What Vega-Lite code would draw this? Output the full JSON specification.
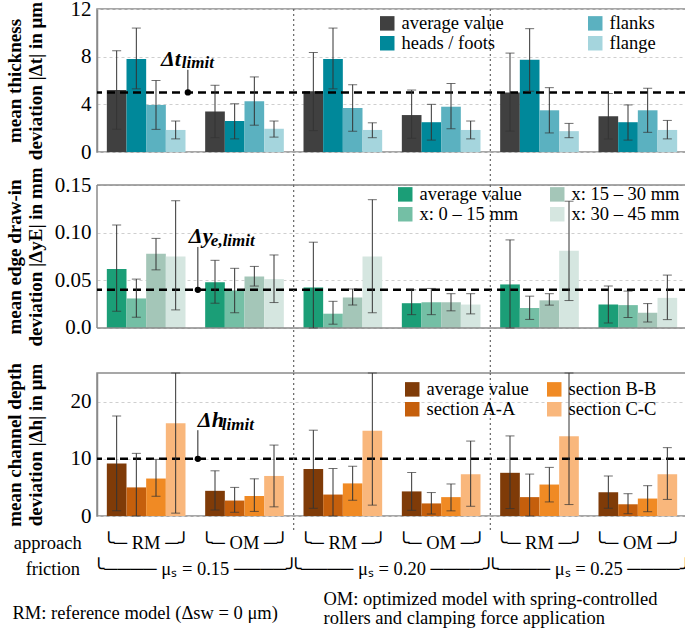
{
  "$schema": "https://vega.github.io/schema/vega-lite/v6.json",
  "background": "white",
  "padding": {"left": 4, "top": -3, "right": 0, "bottom": 0},
  "bounds": "flush",
  "spacing": 33,
  "resolve": {"scale": {"color": "independent", "y": "independent", "xOffset": "independent"}, "legend": {"color": "independent"}, "axis": {"y": "independent"}},
  "config": {
    "font": "Liberation Serif",
    "view": {"stroke": "#8a8a8a", "strokeWidth": 1.5},
    "axis": {"labelFont": "Liberation Serif", "labelFontSize": 21, "labelColor": "black", "labelOverlap": false, "ticks": false, "labelPadding": 6, "domainColor": "#8a8a8a", "domainWidth": 1.5, "gridColor": "#cfcfcf", "gridDash": [3, 3], "gridWidth": 1, "titleFont": "Liberation Serif", "titleFontSize": 19, "titleFontWeight": "bold", "titleColor": "black", "titleLineHeight": 21},
    "axisY": {"labelOverlap": false},
    "axisLeft": {"labelOverlap": false},
    "axisQuantitative": {"labelOverlap": false},
    "legend": {"orient": "none", "columns": 2, "labelFont": "Liberation Serif", "labelFontSize": 18.5, "labelColor": "black", "symbolType": "square", "symbolSize": 210, "symbolStrokeWidth": 0, "symbolOpacity": 1, "rowPadding": 1, "labelOffset": 5},
    "text": {"font": "Liberation Serif", "fontSize": 18.5, "color": "black"}
  },
  "datasets": {
    "one": [{}],
    "thick": [
      {"g": "RM 0.15", "s": "average value", "v": 5.2, "lo": 1.9, "hi": 8.5},
      {"g": "RM 0.15", "s": "heads / foots", "v": 7.8, "lo": 5.3, "hi": 10.4},
      {"g": "RM 0.15", "s": "flanks", "v": 3.95, "lo": 1.9, "hi": 6.0},
      {"g": "RM 0.15", "s": "flange", "v": 1.85, "lo": 1.1, "hi": 2.6},
      {"g": "OM 0.15", "s": "average value", "v": 3.4, "lo": 1.2, "hi": 5.6},
      {"g": "OM 0.15", "s": "heads / foots", "v": 2.6, "lo": 1.1, "hi": 4.05},
      {"g": "OM 0.15", "s": "flanks", "v": 4.25, "lo": 2.25, "hi": 6.3},
      {"g": "OM 0.15", "s": "flange", "v": 1.95, "lo": 1.25, "hi": 2.6},
      {"g": "RM 0.20", "s": "average value", "v": 5.1, "lo": 1.8, "hi": 8.35},
      {"g": "RM 0.20", "s": "heads / foots", "v": 7.8, "lo": 5.3, "hi": 10.4},
      {"g": "RM 0.20", "s": "flanks", "v": 3.7, "lo": 1.75, "hi": 5.65},
      {"g": "RM 0.20", "s": "flange", "v": 1.85, "lo": 1.2, "hi": 2.45},
      {"g": "OM 0.20", "s": "average value", "v": 3.1, "lo": 1.15, "hi": 5.2},
      {"g": "OM 0.20", "s": "heads / foots", "v": 2.5, "lo": 1.0, "hi": 4.0},
      {"g": "OM 0.20", "s": "flanks", "v": 3.8, "lo": 1.95, "hi": 5.75},
      {"g": "OM 0.20", "s": "flange", "v": 1.85, "lo": 1.1, "hi": 2.6},
      {"g": "RM 0.25", "s": "average value", "v": 5.0, "lo": 1.75, "hi": 8.3},
      {"g": "RM 0.25", "s": "heads / foots", "v": 7.75, "lo": 5.1, "hi": 10.35},
      {"g": "RM 0.25", "s": "flanks", "v": 3.5, "lo": 1.6, "hi": 5.4},
      {"g": "RM 0.25", "s": "flange", "v": 1.75, "lo": 1.2, "hi": 2.4},
      {"g": "OM 0.25", "s": "average value", "v": 3.0, "lo": 1.1, "hi": 4.9},
      {"g": "OM 0.25", "s": "heads / foots", "v": 2.5, "lo": 1.0, "hi": 3.95},
      {"g": "OM 0.25", "s": "flanks", "v": 3.5, "lo": 1.65, "hi": 5.35},
      {"g": "OM 0.25", "s": "flange", "v": 1.85, "lo": 1.1, "hi": 2.65}
    ],
    "edge": [
      {"g": "RM 0.15", "s": "average value", "v": 0.062, "lo": 0.0176, "hi": 0.108},
      {"g": "RM 0.15", "s": "x: 0 – 15 mm", "v": 0.031, "lo": 0.0113, "hi": 0.0513},
      {"g": "RM 0.15", "s": "x: 15 – 30 mm", "v": 0.078, "lo": 0.061, "hi": 0.094},
      {"g": "RM 0.15", "s": "x: 30 – 45 mm", "v": 0.075, "lo": 0.019, "hi": 0.1335},
      {"g": "OM 0.15", "s": "average value", "v": 0.048, "lo": 0.026, "hi": 0.071},
      {"g": "OM 0.15", "s": "x: 0 – 15 mm", "v": 0.0394, "lo": 0.016, "hi": 0.0626},
      {"g": "OM 0.15", "s": "x: 15 – 30 mm", "v": 0.054, "lo": 0.044, "hi": 0.0646},
      {"g": "OM 0.15", "s": "x: 30 – 45 mm", "v": 0.0513, "lo": 0.0267, "hi": 0.0766},
      {"g": "RM 0.20", "s": "average value", "v": 0.0425, "lo": 0.0, "hi": 0.09},
      {"g": "RM 0.20", "s": "x: 0 – 15 mm", "v": 0.015, "lo": 0.004, "hi": 0.028},
      {"g": "RM 0.20", "s": "x: 15 – 30 mm", "v": 0.032, "lo": 0.024, "hi": 0.041},
      {"g": "RM 0.20", "s": "x: 30 – 45 mm", "v": 0.075, "lo": 0.016, "hi": 0.1346},
      {"g": "OM 0.20", "s": "average value", "v": 0.026, "lo": 0.014, "hi": 0.04},
      {"g": "OM 0.20", "s": "x: 0 – 15 mm", "v": 0.027, "lo": 0.014, "hi": 0.0415},
      {"g": "OM 0.20", "s": "x: 15 – 30 mm", "v": 0.027, "lo": 0.018, "hi": 0.036},
      {"g": "OM 0.20", "s": "x: 30 – 45 mm", "v": 0.0246, "lo": 0.0148, "hi": 0.036},
      {"g": "RM 0.25", "s": "average value", "v": 0.0457, "lo": 0.0, "hi": 0.0924},
      {"g": "RM 0.25", "s": "x: 0 – 15 mm", "v": 0.021, "lo": 0.009, "hi": 0.0334},
      {"g": "RM 0.25", "s": "x: 15 – 30 mm", "v": 0.029, "lo": 0.024, "hi": 0.036},
      {"g": "RM 0.25", "s": "x: 30 – 45 mm", "v": 0.081, "lo": 0.0288, "hi": 0.133},
      {"g": "OM 0.25", "s": "average value", "v": 0.0246, "lo": 0.0053, "hi": 0.044},
      {"g": "OM 0.25", "s": "x: 0 – 15 mm", "v": 0.024, "lo": 0.011, "hi": 0.0387},
      {"g": "OM 0.25", "s": "x: 15 – 30 mm", "v": 0.016, "lo": 0.0063, "hi": 0.0256},
      {"g": "OM 0.25", "s": "x: 30 – 45 mm", "v": 0.0316, "lo": 0.0088, "hi": 0.0555}
    ],
    "depth": [
      {"g": "RM 0.15", "s": "average value", "v": 9.2, "lo": 0.9, "hi": 17.5},
      {"g": "RM 0.15", "s": "section A-A", "v": 5.0, "lo": 0.0, "hi": 10.95},
      {"g": "RM 0.15", "s": "section B-B", "v": 6.55, "lo": 3.45, "hi": 9.9},
      {"g": "RM 0.15", "s": "section C-C", "v": 16.2, "lo": 0.5, "hi": 25},
      {"g": "OM 0.15", "s": "average value", "v": 4.4, "lo": 1.05, "hi": 7.9},
      {"g": "OM 0.15", "s": "section A-A", "v": 2.7, "lo": 0.65, "hi": 5.0},
      {"g": "OM 0.15", "s": "section B-B", "v": 3.5, "lo": 0.8, "hi": 6.5},
      {"g": "OM 0.15", "s": "section C-C", "v": 7.0, "lo": 1.6, "hi": 12.4},
      {"g": "RM 0.20", "s": "average value", "v": 8.2, "lo": 1.35, "hi": 15.0},
      {"g": "RM 0.20", "s": "section A-A", "v": 3.75, "lo": 0.0, "hi": 8.3},
      {"g": "RM 0.20", "s": "section B-B", "v": 5.7, "lo": 2.75, "hi": 8.7},
      {"g": "RM 0.20", "s": "section C-C", "v": 14.9, "lo": 1.9, "hi": 25},
      {"g": "OM 0.20", "s": "average value", "v": 4.3, "lo": 1.0, "hi": 7.6},
      {"g": "OM 0.20", "s": "section A-A", "v": 2.2, "lo": 0.35, "hi": 4.1},
      {"g": "OM 0.20", "s": "section B-B", "v": 3.3, "lo": 0.9, "hi": 5.6},
      {"g": "OM 0.20", "s": "section C-C", "v": 7.3, "lo": 1.7, "hi": 13.1},
      {"g": "RM 0.25", "s": "average value", "v": 7.55, "lo": 1.3, "hi": 14.0},
      {"g": "RM 0.25", "s": "section A-A", "v": 3.3, "lo": 0.0, "hi": 7.33},
      {"g": "RM 0.25", "s": "section B-B", "v": 5.5, "lo": 2.46, "hi": 8.5},
      {"g": "RM 0.25", "s": "section C-C", "v": 13.95, "lo": 2.0, "hi": 25},
      {"g": "OM 0.25", "s": "average value", "v": 4.15, "lo": 1.35, "hi": 7.0},
      {"g": "OM 0.25", "s": "section A-A", "v": 2.05, "lo": 0.4, "hi": 3.9},
      {"g": "OM 0.25", "s": "section B-B", "v": 3.05, "lo": 0.75, "hi": 5.3},
      {"g": "OM 0.25", "s": "section C-C", "v": 7.3, "lo": 2.9, "hi": 11.95}
    ],
    "sep": [{"g": "RM 0.20"}, {"g": "RM 0.25"}],
    "grp": [
      {"g": "RM 0.15", "t": "╰─ RM ─╯"}, {"g": "OM 0.15", "t": "╰─ OM ─╯"},
      {"g": "RM 0.20", "t": "╰─ RM ─╯"}, {"g": "OM 0.20", "t": "╰─ OM ─╯"},
      {"g": "RM 0.25", "t": "╰─ RM ─╯"}, {"g": "OM 0.25", "t": "╰─ OM ─╯"}
    ],
    "fric": [
      {"g": "OM 0.15", "t": "╰──── μₛ = 0.15 ────╯"},
      {"g": "OM 0.20", "t": "╰──── μₛ = 0.20 ────╯"},
      {"g": "OM 0.25", "t": "╰──── μₛ = 0.25 ────╯"}
    ]
  },
  "vconcat": [
    {
      "width": 590, "height": 143,
      "data": {"name": "thick"},
      "layer": [
        {
          "mark": {"type": "bar"},
          "encoding": {
            "x": {"field": "g", "type": "nominal", "scale": {"domain": ["RM 0.15", "OM 0.15", "RM 0.20", "OM 0.20", "RM 0.25", "OM 0.25"], "paddingInner": 0.2, "paddingOuter": 0.1}, "axis": null},
            "xOffset": {"field": "s", "type": "nominal", "scale": {"domain": ["average value", "heads / foots", "flanks", "flange"], "paddingInner": 0, "paddingOuter": 0}},
            "y": {"field": "v", "type": "quantitative", "scale": {"domain": [0, 12], "nice": false}, "axis": {"values": [0, 2, 4, 6, 8, 10, 12], "labelOverlap": false, "title": ["mean thickness", "deviation |Δt| in μm"], "titleX": -73, "titleY": 71.5}},
            "color": {"field": "s", "type": "nominal", "scale": {"domain": ["average value", "heads / foots", "flanks", "flange"], "range": ["#404040", "#00889a", "#5bb1c0", "#a5d5dd"]}, "legend": {"title": null, "legendX": 281, "legendY": 5, "columnPadding": 82}}
          }
        },
        {"data": {"name": "one"}, "mark": {"type": "rule", "strokeDash": [8, 5], "strokeWidth": 2.5, "color": "black"}, "encoding": {"y": {"datum": 5, "type": "quantitative", "axis": {"labelOverlap": false}}}},
        {
          "mark": {"type": "rule", "color": "#333", "strokeWidth": 1},
          "encoding": {"x": {"field": "g", "type": "nominal"}, "xOffset": {"field": "s", "type": "nominal"}, "y": {"field": "lo", "type": "quantitative", "axis": {"labelOverlap": false}}, "y2": {"field": "hi"}}
        },
        {"mark": {"type": "tick", "orient": "horizontal", "size": 9, "thickness": 1, "color": "#333"}, "encoding": {"x": {"field": "g", "type": "nominal"}, "xOffset": {"field": "s", "type": "nominal"}, "y": {"field": "lo", "type": "quantitative", "axis": {"labelOverlap": false}}}},
        {"mark": {"type": "tick", "orient": "horizontal", "size": 9, "thickness": 1, "color": "#333"}, "encoding": {"x": {"field": "g", "type": "nominal"}, "xOffset": {"field": "s", "type": "nominal"}, "y": {"field": "hi", "type": "quantitative", "axis": {"labelOverlap": false}}}},
        {"data": {"name": "sep"}, "mark": {"type": "rule", "strokeDash": [2, 3], "color": "#666", "strokeWidth": 1.2}, "encoding": {"x": {"field": "g", "type": "nominal", "bandPosition": -0.125}, "y": {"datum": 12, "type": "quantitative", "axis": {"labelOverlap": false}}, "y2": {"datum": -2.75}}},
        {"data": {"name": "one"}, "mark": {"type": "rule", "color": "#222", "strokeWidth": 1}, "encoding": {"x": {"datum": "RM 0.15", "type": "nominal", "bandPosition": 1.03}, "y": {"datum": 5, "type": "quantitative", "axis": {"labelOverlap": false}}, "y2": {"datum": 6.9}}},
        {"data": {"name": "one"}, "mark": {"type": "point", "filled": true, "color": "black", "size": 40, "opacity": 1}, "encoding": {"x": {"datum": "RM 0.15", "type": "nominal", "bandPosition": 1.03}, "y": {"datum": 5, "type": "quantitative", "axis": {"labelOverlap": false}}}},
        {"data": {"name": "one"}, "mark": {"type": "text", "text": "Δt", "fontSize": 22, "fontWeight": "bold", "fontStyle": "italic", "align": "right", "baseline": "alphabetic", "dx": -7}, "encoding": {"x": {"datum": "RM 0.15", "type": "nominal", "bandPosition": 1.03}, "y": {"datum": 7.25, "type": "quantitative", "axis": {"labelOverlap": false}}}},
        {"data": {"name": "one"}, "mark": {"type": "text", "text": "limit", "fontSize": 17, "fontWeight": "bold", "fontStyle": "italic", "align": "left", "baseline": "alphabetic", "dx": -6}, "encoding": {"x": {"datum": "RM 0.15", "type": "nominal", "bandPosition": 1.03}, "y": {"datum": 7.05, "type": "quantitative", "axis": {"labelOverlap": false}}}}
      ]
    },
    {
      "width": 590, "height": 155,
      "view": {"stroke": null},
      "data": {"name": "edge"},
      "layer": [
        {
          "mark": {"type": "bar"},
          "encoding": {
            "x": {"field": "g", "type": "nominal", "scale": {"domain": ["RM 0.15", "OM 0.15", "RM 0.20", "OM 0.20", "RM 0.25", "OM 0.25"], "paddingInner": 0.2, "paddingOuter": 0.1}, "axis": null},
            "xOffset": {"field": "s", "type": "nominal", "scale": {"domain": ["average value", "x: 0 – 15 mm", "x: 15 – 30 mm", "x: 30 – 45 mm"], "paddingInner": 0, "paddingOuter": 0}},
            "y": {"field": "v", "type": "quantitative", "scale": {"domain": [-0.01259, 0.15], "nice": false, "zero": false}, "axis": {"values": [0, 0.05, 0.1, 0.15], "labelOverlap": false, "domain": false, "labelExpr": "datum.value == 0 ? '0.0' : format(datum.value, '.2f')", "title": ["mean edge draw-in", "deviation |ΔyE| in mm"], "titleX": -73, "titleY": 71.5}},
            "color": {"field": "s", "type": "nominal", "scale": {"domain": ["average value", "x: 0 – 15 mm", "x: 15 – 30 mm", "x: 30 – 45 mm"], "range": ["#1b9e77", "#74bfa5", "#a4c6b8", "#d5e6e0"]}, "legend": {"title": null, "legendX": 299, "legendY": 0, "columnPadding": 26}}
          }
        },
        {"data": {"name": "one"}, "mark": {"type": "rule", "color": "#8a8a8a", "strokeWidth": 1.5}, "encoding": {"y": {"datum": 0.15, "type": "quantitative", "axis": {"labelOverlap": false}}}},
        {"data": {"name": "one"}, "mark": {"type": "rule", "color": "#8a8a8a", "strokeWidth": 1.5}, "encoding": {"y": {"datum": 0, "type": "quantitative", "axis": {"labelOverlap": false}}}},
        {"data": {"name": "one"}, "mark": {"type": "rule", "color": "#8a8a8a", "strokeWidth": 1.5}, "encoding": {"x": {"datum": "RM 0.15", "type": "nominal", "bandPosition": -0.125}, "y": {"datum": 0, "type": "quantitative", "axis": {"labelOverlap": false}}, "y2": {"datum": 0.15}}},
        {"data": {"name": "one"}, "mark": {"type": "rule", "color": "#8a8a8a", "strokeWidth": 1.5}, "encoding": {"x": {"datum": "OM 0.25", "type": "nominal", "bandPosition": 1.125}, "y": {"datum": 0, "type": "quantitative", "axis": {"labelOverlap": false}}, "y2": {"datum": 0.15}}},
        {"data": {"name": "one"}, "mark": {"type": "rule", "strokeDash": [8, 5], "strokeWidth": 2.5, "color": "black"}, "encoding": {"y": {"datum": 0.04, "type": "quantitative", "axis": {"labelOverlap": false}}}},
        {
          "mark": {"type": "rule", "color": "#333", "strokeWidth": 1},
          "encoding": {"x": {"field": "g", "type": "nominal"}, "xOffset": {"field": "s", "type": "nominal"}, "y": {"field": "lo", "type": "quantitative", "axis": {"labelOverlap": false}}, "y2": {"field": "hi"}}
        },
        {"mark": {"type": "tick", "orient": "horizontal", "size": 9, "thickness": 1, "color": "#333"}, "encoding": {"x": {"field": "g", "type": "nominal"}, "xOffset": {"field": "s", "type": "nominal"}, "y": {"field": "lo", "type": "quantitative", "axis": {"labelOverlap": false}}}},
        {"mark": {"type": "tick", "orient": "horizontal", "size": 9, "thickness": 1, "color": "#333"}, "encoding": {"x": {"field": "g", "type": "nominal"}, "xOffset": {"field": "s", "type": "nominal"}, "y": {"field": "hi", "type": "quantitative", "axis": {"labelOverlap": false}}}},
        {"data": {"name": "sep"}, "mark": {"type": "rule", "strokeDash": [2, 3], "color": "#666", "strokeWidth": 1.2}, "encoding": {"x": {"field": "g", "type": "nominal", "bandPosition": -0.125}, "y": {"datum": 0.15, "type": "quantitative", "axis": {"labelOverlap": false}}, "y2": {"datum": -0.0472}}},
        {"data": {"name": "one"}, "mark": {"type": "rule", "color": "#222", "strokeWidth": 1}, "encoding": {"x": {"datum": "RM 0.15", "type": "nominal", "bandPosition": 1.157}, "y": {"datum": 0.04, "type": "quantitative", "axis": {"labelOverlap": false}}, "y2": {"datum": 0.085}}},
        {"data": {"name": "one"}, "mark": {"type": "point", "filled": true, "color": "black", "size": 40, "opacity": 1}, "encoding": {"x": {"datum": "RM 0.15", "type": "nominal", "bandPosition": 1.157}, "y": {"datum": 0.04, "type": "quantitative", "axis": {"labelOverlap": false}}}},
        {"data": {"name": "one"}, "mark": {"type": "text", "text": "Δy", "fontSize": 22, "fontWeight": "bold", "fontStyle": "italic", "align": "left", "baseline": "alphabetic", "dx": -9}, "encoding": {"x": {"datum": "RM 0.15", "type": "nominal", "bandPosition": 1.157}, "y": {"datum": 0.0889, "type": "quantitative", "axis": {"labelOverlap": false}}}},
        {"data": {"name": "one"}, "mark": {"type": "text", "text": "e,limit", "fontSize": 17, "fontWeight": "bold", "fontStyle": "italic", "align": "left", "baseline": "alphabetic", "dx": 13}, "encoding": {"x": {"datum": "RM 0.15", "type": "nominal", "bandPosition": 1.157}, "y": {"datum": 0.0865, "type": "quantitative", "axis": {"labelOverlap": false}}}}
      ]
    },
    {
      "width": 590, "height": 143,
      "data": {"name": "depth"},
      "layer": [
        {
          "mark": {"type": "bar"},
          "encoding": {
            "x": {"field": "g", "type": "nominal", "scale": {"domain": ["RM 0.15", "OM 0.15", "RM 0.20", "OM 0.20", "RM 0.25", "OM 0.25"], "paddingInner": 0.2, "paddingOuter": 0.1}, "axis": null},
            "xOffset": {"field": "s", "type": "nominal", "scale": {"domain": ["average value", "section A-A", "section B-B", "section C-C"], "paddingInner": 0, "paddingOuter": 0}},
            "y": {"field": "v", "type": "quantitative", "scale": {"domain": [0, 25], "nice": false}, "axis": {"values": [0, 5, 10, 15, 20, 25], "labelOverlap": false, "title": ["mean channel depth", "deviation |Δh| in μm"], "titleX": -73, "titleY": 71.5}},
            "color": {"field": "s", "type": "nominal", "scale": {"domain": ["average value", "section A-A", "section B-B", "section C-C"], "range": ["#7f3b08", "#c55f0c", "#f08a24", "#f9b77c"]}, "legend": {"title": null, "legendX": 306, "legendY": 7, "columnPadding": 16}}
          }
        },
        {"data": {"name": "one"}, "mark": {"type": "rule", "strokeDash": [8, 5], "strokeWidth": 2.5, "color": "black"}, "encoding": {"y": {"datum": 10, "type": "quantitative", "axis": {"labelOverlap": false}}}},
        {
          "mark": {"type": "rule", "color": "#333", "strokeWidth": 1},
          "encoding": {"x": {"field": "g", "type": "nominal"}, "xOffset": {"field": "s", "type": "nominal"}, "y": {"field": "lo", "type": "quantitative", "axis": {"labelOverlap": false}}, "y2": {"field": "hi"}}
        },
        {"mark": {"type": "tick", "orient": "horizontal", "size": 9, "thickness": 1, "color": "#333"}, "encoding": {"x": {"field": "g", "type": "nominal"}, "xOffset": {"field": "s", "type": "nominal"}, "y": {"field": "lo", "type": "quantitative", "axis": {"labelOverlap": false}}}},
        {"mark": {"type": "tick", "orient": "horizontal", "size": 9, "thickness": 1, "color": "#333"}, "encoding": {"x": {"field": "g", "type": "nominal"}, "xOffset": {"field": "s", "type": "nominal"}, "y": {"field": "hi", "type": "quantitative", "axis": {"labelOverlap": false}}}},
        {"data": {"name": "sep"}, "mark": {"type": "rule", "strokeDash": [2, 3], "color": "#666", "strokeWidth": 1.2}, "encoding": {"x": {"field": "g", "type": "nominal", "bandPosition": -0.125}, "y": {"datum": 25, "type": "quantitative", "axis": {"labelOverlap": false}}, "y2": {"datum": -2.8}}},
        {"data": {"name": "one"}, "mark": {"type": "rule", "color": "#222", "strokeWidth": 1}, "encoding": {"x": {"datum": "RM 0.15", "type": "nominal", "bandPosition": 1.157}, "y": {"datum": 10, "type": "quantitative", "axis": {"labelOverlap": false}}, "y2": {"datum": 15.0}}},
        {"data": {"name": "one"}, "mark": {"type": "point", "filled": true, "color": "black", "size": 40, "opacity": 1}, "encoding": {"x": {"datum": "RM 0.15", "type": "nominal", "bandPosition": 1.157}, "y": {"datum": 10, "type": "quantitative", "axis": {"labelOverlap": false}}}},
        {"data": {"name": "one"}, "mark": {"type": "text", "text": "Δh", "fontSize": 22, "fontWeight": "bold", "fontStyle": "italic", "align": "left", "baseline": "alphabetic", "dx": 0}, "encoding": {"x": {"datum": "RM 0.15", "type": "nominal", "bandPosition": 1.157}, "y": {"datum": 15.6, "type": "quantitative", "axis": {"labelOverlap": false}}}},
        {"data": {"name": "one"}, "mark": {"type": "text", "text": "limit", "fontSize": 17, "fontWeight": "bold", "fontStyle": "italic", "align": "left", "baseline": "alphabetic", "dx": 24}, "encoding": {"x": {"datum": "RM 0.15", "type": "nominal", "bandPosition": 1.157}, "y": {"datum": 15.1, "type": "quantitative", "axis": {"labelOverlap": false}}}},
        {"data": {"name": "grp"}, "mark": {"type": "text", "align": "center", "baseline": "middle"}, "encoding": {"x": {"field": "g", "type": "nominal"}, "y": {"datum": -4.8, "type": "quantitative", "axis": {"labelOverlap": false}}, "text": {"field": "t"}}},
        {"data": {"name": "fric"}, "mark": {"type": "text", "align": "center", "baseline": "middle"}, "encoding": {"x": {"field": "g", "type": "nominal", "bandPosition": -0.125}, "y": {"datum": -9.2, "type": "quantitative", "axis": {"labelOverlap": false}}, "text": {"field": "t"}}},
        {"data": {"name": "one"}, "mark": {"type": "text", "text": "approach", "align": "right", "baseline": "middle"}, "encoding": {"x": {"datum": "RM 0.15", "type": "nominal", "bandPosition": -0.32}, "y": {"datum": -4.8, "type": "quantitative", "axis": {"labelOverlap": false}}}},
        {"data": {"name": "one"}, "mark": {"type": "text", "text": "friction", "align": "right", "baseline": "middle"}, "encoding": {"x": {"datum": "RM 0.15", "type": "nominal", "bandPosition": -0.34}, "y": {"datum": -9.2, "type": "quantitative", "axis": {"labelOverlap": false}}}},
        {"data": {"name": "one"}, "mark": {"type": "text", "text": "RM: reference model (Δsw = 0 μm)", "align": "left", "baseline": "middle"}, "encoding": {"x": {"datum": "RM 0.15", "type": "nominal", "bandPosition": -1.2}, "y": {"datum": -16.9, "type": "quantitative", "axis": {"labelOverlap": false}}}},
        {"data": {"name": "one"}, "mark": {"type": "text", "text": ["OM: optimized model with spring-controlled", "rollers and clamping force application"], "align": "left", "baseline": "middle", "lineHeight": 19}, "encoding": {"x": {"datum": "RM 0.20", "type": "nominal", "bandPosition": 0.254}, "y": {"datum": -14.5, "type": "quantitative", "axis": {"labelOverlap": false}}}}
      ]
    }
  ]
}
